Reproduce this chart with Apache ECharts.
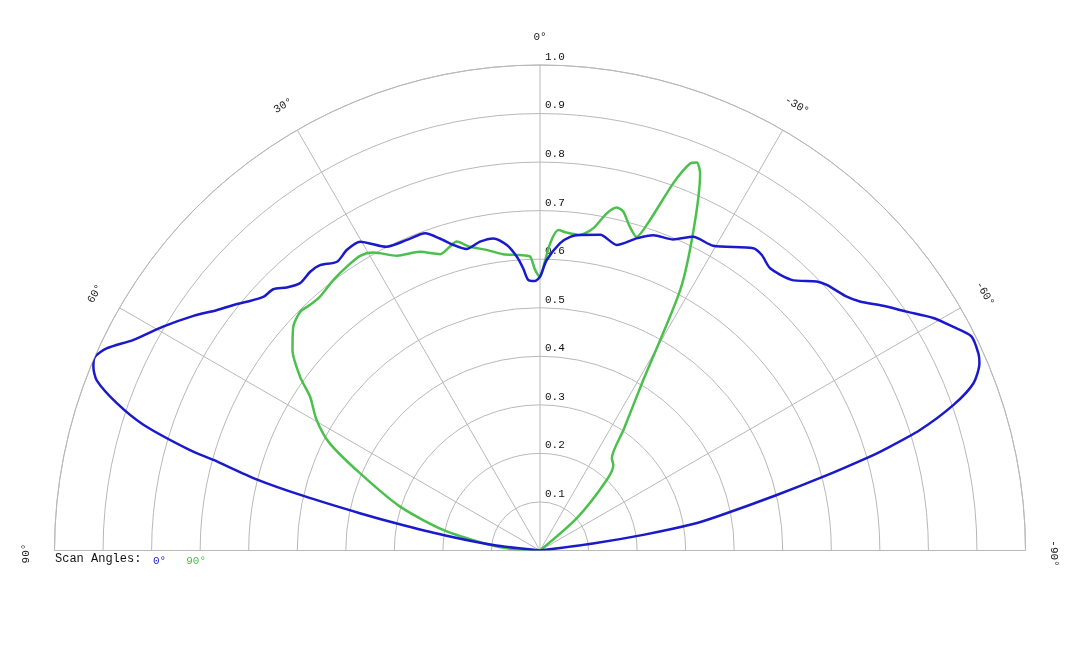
<!DOCTYPE html>
<html lang="en">
<head>
  <meta charset="UTF-8">
  <title>Scan Angles</title>
  <script src="https://cdn.jsdelivr.net/npm/echarts@6/dist/echarts.min.js"></script>
  <style type="text/css">
    html, body { margin: 0; padding: 0; background: #fff; }
  </style>
</head>
<body>
  <div id="main" style="width:1080px;height:648px"></div>
  <script type="text/javascript">
    // tick labels
    var angleTicks = [-90, -60, -30, 0, 30, 60, 90];
    var radiusTicks = [0.1, 0.2, 0.3, 0.4, 0.5, 0.6, 0.7, 0.8, 0.9, 1.0];

    // scan angle 0 deg (angle in degrees, positive = left)
    var blueAngles = [-90, -83.5, -82.5, -81.4, -80.2, -79.0, -76.8, -75.4, -74.2, -73.7, -72.4, -70.6,
      -68.9, -66.9, -65.8, -63.6, -61.6, -59.4, -56.9, -54.5, -52.1, -50.4, -47.2, -45.8, -42.9,
      -39.2, -36.9, -35.2, -29.6, -26.0, -23.2, -19.8, -17.2, -14.1, -10.8, -7.2, -5.5, -3.7,
      -1.3, 0, 1.1, 2.5, 3.4, 4.5, 6.2, 8.5, 11.0, 13.7, 15.8, 17.8, 19.9, 23.2, 26.8, 30.2,
      32.7, 35.1, 37.6, 39.5, 41.9, 43.9, 45.6, 47.5, 49.7, 51.3, 53.4, 55.9, 59.3, 62.6, 65.0,
      66.5, 67.6, 69.0, 70.8, 72.4, 74.0, 74.5, 75.9, 77.0, 78.3, 79.3, 80.9, 83.3, 86, 90];
    var blueR = [0, 0, 0.110, 0.215, 0.320, 0.378, 0.501, 0.603, 0.699, 0.737, 0.821, 0.903,
      0.957, 0.984, 0.990, 0.992, 0.968, 0.941, 0.901, 0.868, 0.835, 0.820, 0.805, 0.795, 0.761,
      0.750, 0.761, 0.762, 0.722, 0.719, 0.697, 0.690, 0.673, 0.649, 0.662, 0.655, 0.649, 0.634,
      0.598, 0.564, 0.555, 0.558, 0.582, 0.607, 0.633, 0.650, 0.648, 0.639, 0.654, 0.675, 0.695,
      0.696, 0.701, 0.736, 0.736, 0.727, 0.742, 0.744, 0.740, 0.752, 0.769, 0.773, 0.792, 0.809,
      0.830, 0.862, 0.903, 0.943, 0.985, 1.000, 0.995, 0.978, 0.923, 0.857, 0.750, 0.698, 0.602,
      0.500, 0.379, 0.300, 0.202, 0.097, 0, 0];

    // scan angle 90 deg
    var greenAngles = [-90, -52, -48.7, -43.4, -40.6, -37.9, -34.7, -31.2, -28.3, -25.6, -23.0,
      -22.0, -21.2, -19.95, -18.4, -17.1, -15.5, -13.8, -12.6, -11.2, -9.4, -7.2, -4.8, -3.3,
      -1.9, -0.35, 0, 1.0, 1.95, 3.9, 7.1, 10.1, 13.0, 15.1, 16.5, 18.6, 21.9, 25.9, 29.2, 31.4,
      34.3, 37.4, 40.9, 43.1, 45.1, 47.8, 51.0, 54.1, 56.2, 59.7, 63.0, 66.8, 72.6, 78.0, 83.0,
      87.4, 90];
    var greenR = [0, 0, 0.101, 0.200, 0.232, 0.241, 0.302, 0.411, 0.609, 0.732, 0.844,
      0.862, 0.855, 0.805, 0.717, 0.676, 0.692, 0.719, 0.724, 0.708, 0.673, 0.655, 0.657, 0.661,
      0.633, 0.571, 0.564, 0.578, 0.606, 0.610, 0.615, 0.629, 0.642, 0.659, 0.653, 0.644, 0.663,
      0.675, 0.703, 0.711, 0.707, 0.701, 0.692, 0.693, 0.697, 0.686, 0.656, 0.610, 0.570, 0.533,
      0.486, 0.403, 0.302, 0.204, 0.111, 0.055, 0];

    var gridColor = '#b8b8b8';
    var monoFont = '"Liberation Mono", "Courier New", monospace';

    var chartDom = document.getElementById('main');
    var myChart = echarts.init(chartDom);

    function pairs(rs, as) {
      return rs.map(function (r, i) { return [r, as[i]]; });
    }

    var option = {
      animation: false,
      title: {
        text: 'Scan Angles:',
        left: 55,
        top: 553,
        padding: 0,
        textStyle: { fontFamily: monoFont, fontSize: 12, fontWeight: 'normal', color: '#111' }
      },
      legend: {
        left: 148,
        top: 554,
        padding: 0,
        icon: 'none',
        itemWidth: 0,
        itemGap: 15,
        selectedMode: false,
        textStyle: { fontFamily: monoFont, fontSize: 11 },
        data: [
          { name: '0°', textStyle: { color: '#1a1acc' } },
          { name: '90°', textStyle: { color: '#4cc04c' } }
        ]
      },
      polar: {
        center: [540, 550.5],
        radius: 485.5
      },
      angleAxis: {
        type: 'value',
        min: -90,
        max: 90,
        interval: 30,
        startAngle: 0,
        endAngle: 180,
        clockwise: false,
        axisLine: { show: true, lineStyle: { color: gridColor, width: 1 } },
        axisTick: { show: false },
        axisLabel: { show: false },
        splitLine: { show: true, lineStyle: { color: gridColor, width: 1 } }
      },
      radiusAxis: {
        type: 'value',
        min: 0,
        max: 1,
        interval: 0.1,
        axisLine: { show: false },
        axisTick: { show: false },
        axisLabel: { show: false },
        splitLine: { show: true, lineStyle: { color: gridColor, width: 1 } }
      },
      series: [
        {
          name: 'angleLabels',
          type: 'custom',
          coordinateSystem: 'polar',
          silent: true,
          z: 1,
          data: angleTicks.map(function (a) { return [1.058, a]; }),
          renderItem: function (params, api) {
            var a = api.value(1);
            var p = api.coord([api.value(0), a]);
            return {
              type: 'text',
              x: p[0],
              y: p[1] + (Math.abs(a) === 90 ? 3 : 0),
              rotation: a * Math.PI / 180,
              style: {
                text: a + '°',
                fontFamily: monoFont,
                fontSize: 11,
                fill: '#222',
                align: 'center',
                verticalAlign: 'middle'
              }
            };
          }
        },
        {
          name: 'radiusLabels',
          type: 'custom',
          coordinateSystem: 'polar',
          silent: true,
          z: 1,
          data: radiusTicks.map(function (r) { return [r, 0]; }),
          renderItem: function (params, api) {
            var r = api.value(0);
            var p = api.coord([r, api.value(1)]);
            return {
              type: 'text',
              x: p[0] + 5,
              y: p[1] - 8,
              style: {
                text: r.toFixed(1),
                fontFamily: monoFont,
                fontSize: 11,
                fill: '#111',
                align: 'left',
                verticalAlign: 'middle'
              }
            };
          }
        },
        {
          name: '0°',
          type: 'line',
          coordinateSystem: 'polar',
          data: pairs(blueR, blueAngles),
          showSymbol: false,
          symbol: 'none',
          smooth: 0.25,
          z: 3,
          itemStyle: { color: '#1a1acc' },
          lineStyle: { color: '#1a1acc', width: 2.5 }
        },
        {
          name: '90°',
          type: 'line',
          coordinateSystem: 'polar',
          data: pairs(greenR, greenAngles),
          showSymbol: false,
          symbol: 'none',
          smooth: 0.25,
          z: 2,
          itemStyle: { color: '#4cc04c' },
          lineStyle: { color: '#4cc04c', width: 2.5 }
        }
      ]
    };

    myChart.setOption(option);
  </script>
</body>
</html>
